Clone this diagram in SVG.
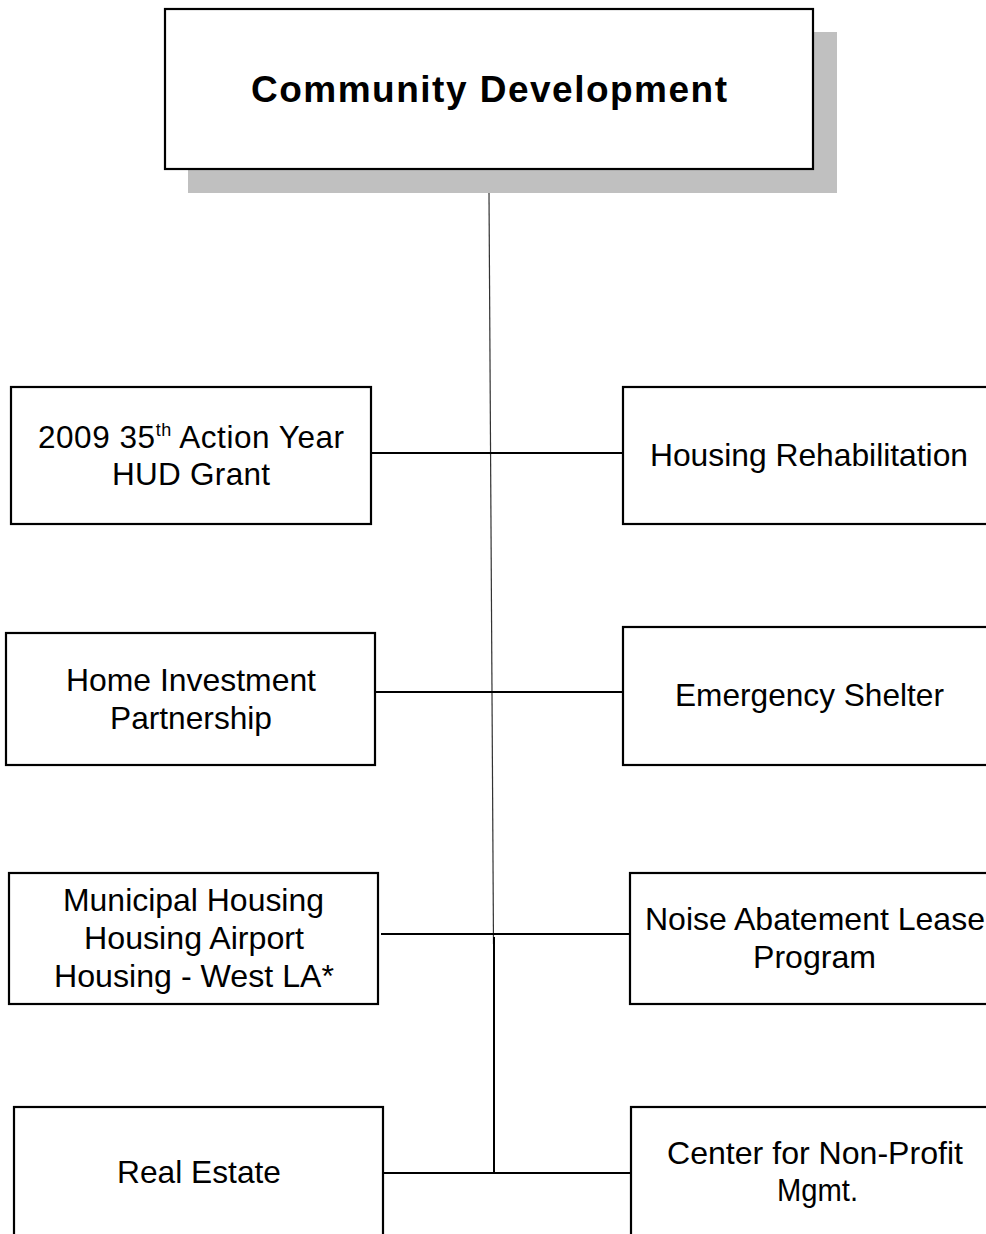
<svg xmlns="http://www.w3.org/2000/svg" width="986" height="1234" viewBox="0 0 986 1234">
  <style>
    .box { fill: #ffffff; stroke: #000000; stroke-width: 2.2; }
    .shadow { fill: #c0c0c0; stroke: none; }
    .lbl { font-family: "Liberation Sans", Arial, sans-serif; font-size: 31.5px; fill: #000000; text-anchor: middle; }
    .title { font-family: "Liberation Sans", Arial, sans-serif; font-size: 37px; font-weight: bold; fill: #000000; text-anchor: middle; }
    .wire { stroke: #000000; stroke-width: 2; fill: none; }
    .trunk { stroke: #333333; stroke-width: 1.2; fill: none; }
  </style>
  <rect width="986" height="1234" fill="#ffffff"/>

  <!-- connectors -->
  <g id="connectors">
    <line class="trunk" x1="489" y1="193" x2="493.5" y2="944"/>
    <line class="wire" x1="494" y1="937" x2="494" y2="1173"/>
    <line class="wire" x1="371" y1="453" x2="623" y2="453"/>
    <line class="wire" x1="375" y1="692" x2="623" y2="692"/>
    <line class="wire" x1="381" y1="934" x2="630" y2="934"/>
    <line class="wire" x1="383" y1="1173" x2="636" y2="1173"/>
  </g>

  <!-- root -->
  <g id="community-development">
    <rect class="shadow" x="188" y="32" width="649" height="161"/>
    <rect class="box" x="165" y="9" width="648" height="160"/>
    <text class="title" x="489" y="102" textLength="476" lengthAdjust="spacing">Community Development</text>
  </g>

  <g id="hud-grant">
    <rect class="box" x="11" y="387" width="360" height="137"/>
    <text class="lbl" x="191" y="448" textLength="306" lengthAdjust="spacing">2009 35<tspan font-size="18" dy="-12">th</tspan><tspan dy="12"> Action Year</tspan></text>
    <text class="lbl" x="191" y="485" textLength="158" lengthAdjust="spacing">HUD Grant</text>
  </g>

  <g id="housing-rehabilitation">
    <rect class="box" x="623" y="387" width="370" height="137"/>
    <text class="lbl" x="809" y="466" textLength="318" lengthAdjust="spacingAndGlyphs">Housing Rehabilitation</text>
  </g>

  <g id="home-investment">
    <rect class="box" x="6" y="633" width="369" height="132"/>
    <text class="lbl" x="191" y="691" textLength="250" lengthAdjust="spacingAndGlyphs">Home Investment</text>
    <text class="lbl" x="191" y="729" textLength="162" lengthAdjust="spacingAndGlyphs">Partnership</text>
  </g>

  <g id="emergency-shelter">
    <rect class="box" x="623" y="627" width="370" height="138"/>
    <text class="lbl" x="809.5" y="706" textLength="269" lengthAdjust="spacingAndGlyphs">Emergency Shelter</text>
  </g>

  <g id="municipal-housing">
    <rect class="box" x="9" y="873" width="369" height="131"/>
    <text class="lbl" x="193.5" y="911" textLength="261" lengthAdjust="spacingAndGlyphs">Municipal Housing</text>
    <text class="lbl" x="194" y="949" textLength="220" lengthAdjust="spacingAndGlyphs">Housing Airport</text>
    <text class="lbl" x="194" y="987" textLength="280" lengthAdjust="spacingAndGlyphs">Housing - West LA*</text>
  </g>

  <g id="noise-abatement">
    <rect class="box" x="630" y="873" width="363" height="131"/>
    <text class="lbl" x="815" y="930" textLength="340" lengthAdjust="spacingAndGlyphs">Noise Abatement Lease</text>
    <text class="lbl" x="814.5" y="968" textLength="123" lengthAdjust="spacingAndGlyphs">Program</text>
  </g>

  <g id="real-estate">
    <rect class="box" x="14" y="1107" width="369" height="140"/>
    <text class="lbl" x="199" y="1183" textLength="164" lengthAdjust="spacingAndGlyphs">Real Estate</text>
  </g>

  <g id="non-profit-mgmt">
    <rect class="box" x="631" y="1107" width="362" height="140"/>
    <text class="lbl" x="815" y="1164" textLength="296" lengthAdjust="spacingAndGlyphs">Center for Non-Profit</text>
    <text class="lbl" x="817.5" y="1201" textLength="81" lengthAdjust="spacingAndGlyphs">Mgmt.</text>
  </g>
</svg>
